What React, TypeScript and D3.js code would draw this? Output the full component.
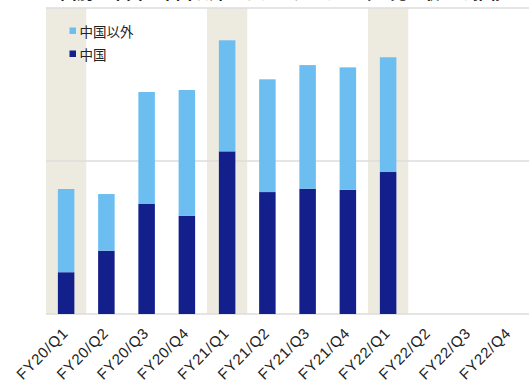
import React from "react";
import * as d3 from "d3";

const categories = [
  "FY20/Q1", "FY20/Q2", "FY20/Q3", "FY20/Q4",
  "FY21/Q1", "FY21/Q2", "FY21/Q3", "FY21/Q4",
  "FY22/Q1", "FY22/Q2", "FY22/Q3", "FY22/Q4",
];
const china = [27.3, 41.4, 71.9, 64.1, 106.3, 79.7, 81.9, 81.2, 92.8];
const outsideChina = [54.4, 37.0, 73.2, 82.3, 72.6, 73.7, 80.8, 80.0, 75.0];
const highlighted = ["FY20/Q1", "FY21/Q1", "FY22/Q1"];
const yTicks = [0, 100, 200];
const seriesNames = ["中国以外", "中国"];
const title = "国別（中国／中国以外）サブスクリプション売上収益の推移";

const W = 532;
const H = 383;
const FONT = "'Noto Sans CJK JP', 'Noto Sans', sans-serif";
const LABEL_FONT = "'Liberation Sans', Arial, sans-serif";

export default function App() {
  const left = 46;
  const right = 529;
  const top = 8;
  const bottom = 314;

  const x = d3.scaleBand<string>().domain(categories).range([left, right]).paddingInner(0).paddingOuter(0);
  const y = d3.scaleLinear().domain([0, 200]).range([bottom, top]);
  const barW = 16.5;

  const rows = china.map((c, i) => ({ cat: categories[i], china: c, other: outsideChina[i] }));
  const stacked = d3.stack<any>().keys(["china", "other"])(rows);
  const colors: Record<string, string> = { china: "#13208C", other: "#6CBEF1" };

  return (
    <svg width={W} height={H} style={{ position: "absolute", left: 0, top: 0 }} fontFamily={FONT}>
      <text x={283} y={-1.5} textAnchor="middle" fontSize={16.5} fontWeight="bold" fill="#222">{title}</text>
      {highlighted.map((c) => (
        <rect key={c} x={x(c)} y={top} width={x.bandwidth()} height={bottom - top} fill="#EDEAE0" />
      ))}
      {yTicks.map((t) => (
        <line key={t} x1={left} x2={right} y1={y(t)} y2={y(t)} stroke="#DCDCDC" strokeWidth={1.5} />
      ))}
      {stacked.map((s) => (
        <g key={s.key}>
          {s.map((d, i) => {
            const cx = (x(rows[i].cat) as number) + x.bandwidth() / 2;
            return (
              <rect
                key={i}
                x={cx - barW / 2}
                y={y(d[1])}
                width={barW}
                height={y(d[0]) - y(d[1])}
                fill={colors[s.key]}
              />
            );
          })}
        </g>
      ))}
      {categories.map((c) => {
        const cx = (x(c) as number) + x.bandwidth() / 2;
        return (
          <text
            key={c}
            transform={`translate(${cx + 3},${334}) rotate(-45)`}
            textAnchor="end"
            fontSize={15}
            letterSpacing={0.8}
            fontFamily={LABEL_FONT}
            fill="#222"
          >
            {c}
          </text>
        );
      })}
      {seriesNames.map((n, i) => (
        <g key={n} transform={`translate(69.5,${27.5 + i * 23})`}>
          <rect x={0} y={0} width={6.5} height={6.5} fill={i === 0 ? colors.other : colors.china} />
          <text x={10} y={3.5} dominantBaseline="central" fontSize={13.5} fill="#222">{n}</text>
        </g>
      ))}
    </svg>
  );
}
